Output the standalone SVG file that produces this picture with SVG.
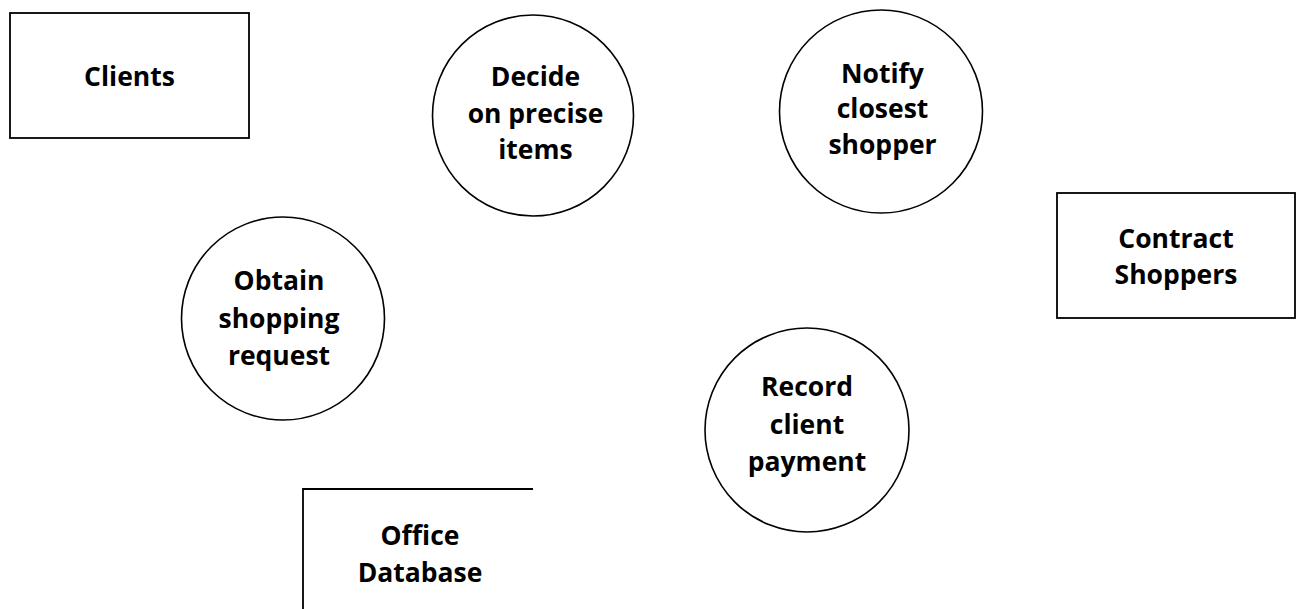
<svg xmlns="http://www.w3.org/2000/svg" width="1301" height="609" viewBox="0 0 1301 609">
<style>
.shape{fill:#ffffff;stroke:#000000;stroke-width:1.8}
.circ{fill:#ffffff;stroke:#000000;stroke-width:1.6}
.lbl{font-family:"Open Sans","Noto Sans","Liberation Sans",sans-serif;font-weight:700;font-size:26.5px;fill:#000000;text-anchor:middle}
</style>
<rect width="1301" height="609" fill="#ffffff"/>
<g id="connectors"></g>
<g id="clients">
<rect class="shape" x="10" y="13" width="239" height="125"/>
<text class="lbl" x="129.5" y="86">Clients</text>
</g>
<g id="decide">
<circle class="circ" cx="533" cy="115.5" r="100.5"/>
<text class="lbl" x="535.5" y="86">Decide</text>
<text class="lbl" x="535.5" y="122.5">on precise</text>
<text class="lbl" x="535.5" y="159">items</text>
</g>
<g id="notify">
<circle class="circ" cx="881" cy="111.5" r="101.5"/>
<text class="lbl" x="882.5" y="82.5">Notify</text>
<text class="lbl" x="882.5" y="118">closest</text>
<text class="lbl" x="882.5" y="154">shopper</text>
</g>
<g id="contract-shoppers">
<rect class="shape" x="1057" y="193" width="238" height="125"/>
<text class="lbl" x="1176" y="248">Contract</text>
<text class="lbl" x="1176" y="284">Shoppers</text>
</g>
<g id="obtain">
<circle class="circ" cx="283" cy="318.5" r="101.5"/>
<text class="lbl" x="279" y="290">Obtain</text>
<text class="lbl" x="279" y="328">shopping</text>
<text class="lbl" x="279" y="365">request</text>
</g>
<g id="record">
<circle class="circ" cx="807" cy="430" r="102"/>
<text class="lbl" x="807" y="396">Record</text>
<text class="lbl" x="807" y="433.5">client</text>
<text class="lbl" x="807" y="471">payment</text>
</g>
<g id="office-database">
<path class="shape" d="M533 489 H303 V609" style="fill:none"/>
<text class="lbl" x="420" y="545">Office</text>
<text class="lbl" x="420" y="582">Database</text>
</g>
</svg>
